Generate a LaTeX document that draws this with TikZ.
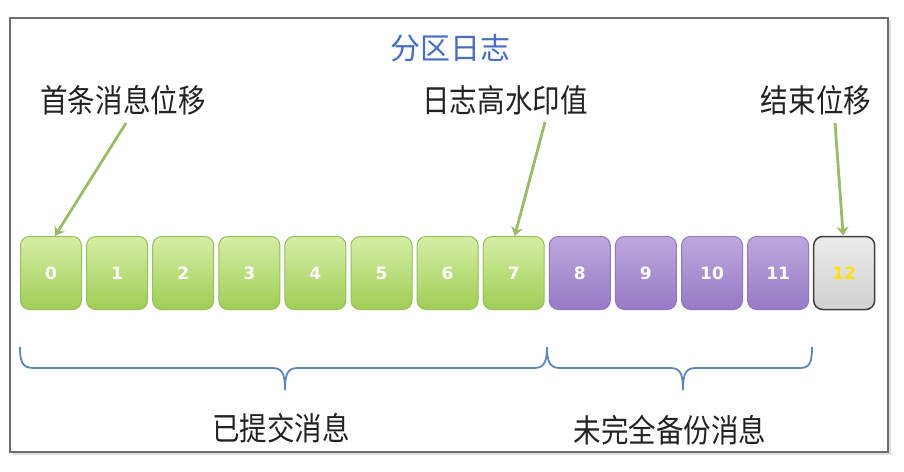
\documentclass[tikz,border=0pt]{standalone}
\usepackage{fontspec}
\newfontfamily\cjk{Noto Sans CJK SC}
\newfontfamily\numfont{DejaVu Sans}
\usetikzlibrary{arrows.meta}
\definecolor{frameg}{RGB}{110,110,110}
\definecolor{titleblue}{RGB}{70,110,200}
\definecolor{txt}{RGB}{35,35,35}
\definecolor{arrowg}{RGB}{155,187,105}
\definecolor{gtop}{RGB}{214,238,165}
\definecolor{gbot}{RGB}{160,205,85}
\definecolor{gbord}{RGB}{150,190,95}
\definecolor{ptop}{RGB}{190,168,222}
\definecolor{pbot}{RGB}{150,122,198}
\definecolor{pbord}{RGB}{145,120,185}
\definecolor{bracec}{RGB}{95,135,185}
\tikzset{
  cell/.style={minimum width=61pt,minimum height=73pt,rounded corners=9pt,inner sep=0pt,
    font=\numfont\bfseries\fontsize{17}{17}\selectfont,text=white},
  gcell/.style={cell,draw=gbord,line width=1pt,top color=gtop,bottom color=gbot},
  pcell/.style={cell,draw=pbord,line width=1pt,top color=ptop,bottom color=pbot},
  ecell/.style={cell,draw=black!75,line width=1.5pt,top color=black!8,bottom color=black!18,text=yellow!85!orange},
  lab/.style={font=\cjk\fontsize{32}{32}\selectfont,text=txt,inner sep=0pt},
  ptr/.style={draw=arrowg,line width=2.8pt,-{Stealth[width=12pt,length=9pt,inset=3pt]}},
  brace/.style={draw=bracec,line width=1.8pt},
}
\begin{document}
\begin{tikzpicture}[x=1pt,y=-1pt]
\useasboundingbox (0,0) rectangle (904,471);
\fill[white] (0,0) rectangle (904,471);
\fill[black!12] (13,21) rectangle (891,455);
\draw[frameg,line width=2.5pt,fill=white] (10,18) rectangle (888,452);
\node[font=\cjk\fontsize{30}{30}\selectfont,text=titleblue,inner sep=0pt] (title) at (450,48) {分区日志};
\node[lab] (l1) at (123,100) {\scalebox{0.86}[1]{首条消息位移}};
\node[lab] (l2) at (505,100) {\scalebox{0.86}[1]{日志高水印值}};
\node[lab] (l3) at (816,100) {\scalebox{0.86}[1]{结束位移}};
\foreach \i in {0,...,7} { \node[gcell] (b\i) at (51+66.1*\i,273) {\i}; }
\foreach \i in {8,...,11} { \node[pcell] (b\i) at (51+66.1*\i,273) {\i}; }
\node[ecell] (b12) at (51+66.1*12,273) {12};
\coordinate (s1) at (126,123);
\coordinate (s2) at (545,122);
\coordinate (s3) at (835,123);
\path[ptr] (s1) -- ([xshift=4pt]b0.north);
\path[ptr] (s2) -- ([xshift=1pt]b7.north);
\path[ptr] (s3) -- ([xshift=-1pt]b12.north);
\coordinate (bl) at (20,347);
\coordinate (bm) at (547,347);
\coordinate (br) at (812,347);
\coordinate (t1) at (285,390);
\coordinate (t2) at (683,390);
\draw[brace] (bl) .. controls (20,362) and (22,368) .. (34,368) -- (272,368)
  .. controls (282,368) and (285,373) .. (t1)
  .. controls (285,373) and (288,368) .. (298,368) -- (534,368)
  .. controls (544,368) and (547,362) .. (bm);
\draw[brace] (bm) .. controls (547,362) and (550,368) .. (560,368) -- (670,368)
  .. controls (680,368) and (683,373) .. (t2)
  .. controls (683,373) and (686,368) .. (696,368) -- (800,368)
  .. controls (810,368) and (812,362) .. (br);
\node[lab] (c1) at (281,428) {\scalebox{0.86}[1]{已提交消息}};
\node[lab] (c2) at (670,430) {\scalebox{0.86}[1]{未完全备份消息}};
\end{tikzpicture}
\end{document}
